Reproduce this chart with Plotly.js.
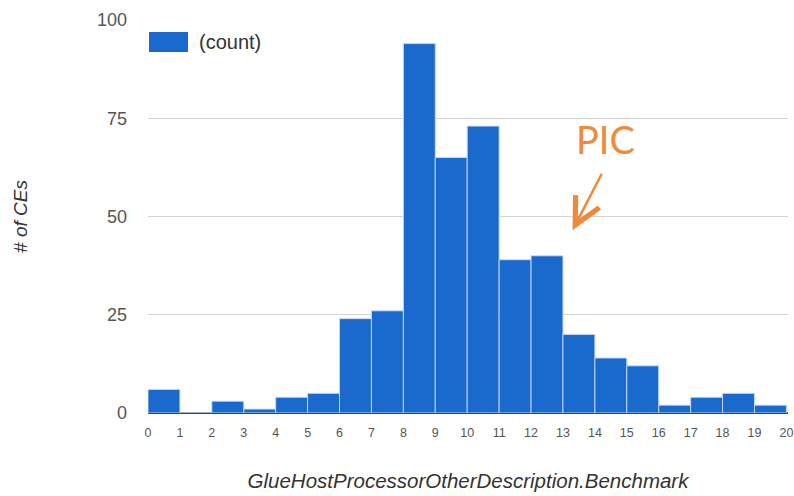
<!DOCTYPE html>
<html>
<head>
<meta charset="utf-8">
<script src="https://cdn.plot.ly/plotly-3.0.1.min.js"></script>
<style>html,body{margin:0;padding:0;background:#fff;}#chart{width:794px;height:496px;}</style>
</head>
<body>
<div id="chart"></div>
<script>
// Data (bins of width 1, start values)
var binStarts = [0, 1, 2, 3, 4, 5, 6, 7, 8, 9, 10, 11, 12, 13, 14, 15, 16, 17, 18, 19];
var counts    = [6, 0, 3, 1, 4, 5, 24, 26, 94, 65, 73, 39, 40, 20, 14, 12, 2, 4, 5, 2];
var xTickVals = [0, 1, 2, 3, 4, 5, 6, 7, 8, 9, 10, 11, 12, 13, 14, 15, 16, 17, 18, 19, 20];
var yTickVals = [0, 25, 50, 75, 100];
var seriesName = '(count)';
var xTitle = 'GlueHostProcessorOtherDescription.Benchmark';
var yTitle = '# of CEs';
var noteText = 'PIC';

var barColor = '#1a69cc';

var traces = [
  {
    type: 'bar',
    name: seriesName,
    x: binStarts,
    y: counts,
    offset: 0,
    width: 1,
    marker: {color: barColor, line: {color: 'rgba(200,220,250,0.9)', width: 1}},
    showlegend: false,
    hoverinfo: 'x+y'
  }
];

var layout = {
  width: 794,
  height: 496,
  margin: {l: 148, r: 6, t: 20, b: 83},
  paper_bgcolor: '#fff',
  plot_bgcolor: '#fff',
  font: {family: 'Liberation Sans, Arial, sans-serif', color: '#444'},
  showlegend: false,
  xaxis: {
    range: [0, 20.05],
    tickvals: xTickVals,
    ticktext: xTickVals.map(String),
    tickfont: {size: 12.5, color: '#555'},
    showgrid: false,
    zeroline: false,
    showline: false,
    ticks: '',
    ticklabelstandoff: 10,
    title: {text: xTitle, font: {size: 20.5, color: '#333', style: 'italic'}, standoff: 35}
  },
  yaxis: {
    range: [0, 100],
    tickvals: yTickVals,
    tickfont: {size: 18, color: '#555'},
    showgrid: true,
    gridcolor: '#d4d4d4',
    gridwidth: 1,
    zeroline: true,
    zerolinecolor: '#444',
    zerolinewidth: 2,
    showline: false,
    ticks: '',
    ticklabelstandoff: 20,
    title: {text: yTitle, font: {size: 19, color: '#333', style: 'italic'}, standoff: 64}
  },
  shapes: [
    // legend swatch
    {
      type: 'rect', xref: 'paper', yref: 'paper',
      x0: 0.0016, x1: 0.0625, y0: 0.9186, y1: 0.9695,
      fillcolor: barColor, line: {width: 0}
    }
  ],
  annotations: [
    // legend label
    {
      xref: 'paper', yref: 'paper',
      x: 0.0766, y: 0.944,
      xanchor: 'left', yanchor: 'middle',
      text: seriesName,
      showarrow: false,
      font: {size: 20, color: '#333'}
    },
    {
      xref: 'paper', yref: 'paper',
      x: 0.665, y: 0.697,
      xanchor: 'left', yanchor: 'middle',
      text: noteText,
      showarrow: false,
      font: {family: 'Lato, Open Sans, sans-serif', size: 38, color: '#ef8a3a'}
    },
    {
      xref: 'x', yref: 'y',
      x: 13.3, y: 46.5,
      ax: 30, ay: -58,
      axref: 'pixel', ayref: 'pixel',
      text: '',
      showarrow: true,
      arrowhead: 5,
      arrowsize: 2.1,
      arrowwidth: 2.5,
      arrowcolor: '#ef8a3a'
    }
  ]
};

Plotly.newPlot('chart', traces, layout, {displayModeBar: false, staticPlot: true});
</script>
</body>
</html>
